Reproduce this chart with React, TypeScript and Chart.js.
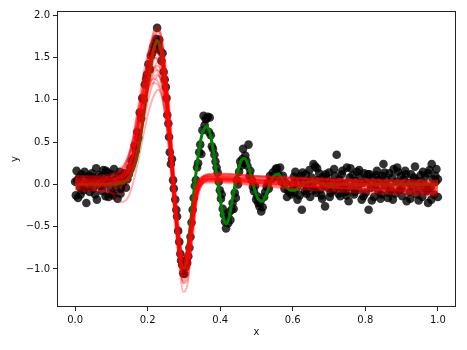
import React, { useEffect, useRef } from 'react';
import { Chart, registerables } from 'chart.js';
Chart.register(...registerables);

const X_TICKS = [0, 0.2, 0.4, 0.6, 0.8, 1.0];
const Y_TICKS = [-1.0, -0.5, 0.0, 0.5, 1.0, 1.5, 2.0];

// noisy observations
const PTS_X = [
  0.000, 0.002, 0.004, 0.006, 0.008, 0.011, 0.014, 0.017, 0.020, 0.023, 0.026, 0.029, 0.031, 0.034, 0.037, 0.040,
  0.043, 0.046, 0.049, 0.052, 0.055, 0.058, 0.060, 0.063, 0.066, 0.069, 0.072, 0.075, 0.078, 0.081, 0.084, 0.087,
  0.090, 0.092, 0.095, 0.098, 0.101, 0.104, 0.107, 0.110, 0.113, 0.117, 0.120, 0.123, 0.126, 0.129, 0.132, 0.136,
  0.140, 0.144, 0.148, 0.152, 0.156,
  0.161, 0.164, 0.167, 0.171, 0.174, 0.178, 0.182, 0.185, 0.189, 0.192, 0.196, 0.198, 0.202, 0.206, 0.209, 0.212,
  0.216, 0.219, 0.221, 0.224, 0.226, 0.229, 0.232, 0.235, 0.238, 0.241, 0.244, 0.247, 0.250, 0.252, 0.254, 0.257,
  0.259, 0.261, 0.264, 0.267, 0.270, 0.272, 0.276, 0.279, 0.281, 0.284, 0.287, 0.290, 0.292, 0.295, 0.298, 0.301,
  0.304, 0.307, 0.309, 0.312, 0.315, 0.318, 0.321, 0.324, 0.327, 0.330, 0.333, 0.336, 0.339, 0.342, 0.345, 0.348,
  0.351, 0.354, 0.357, 0.360, 0.363, 0.366, 0.369, 0.371, 0.374, 0.377, 0.380, 0.384, 0.387, 0.390, 0.393, 0.396,
  0.399, 0.402, 0.404, 0.407, 0.410, 0.413, 0.416, 0.419, 0.422, 0.425, 0.428, 0.431, 0.434, 0.437, 0.440, 0.443,
  0.446, 0.449, 0.452, 0.455, 0.458, 0.461, 0.463, 0.466, 0.469, 0.472, 0.475, 0.478, 0.481, 0.483, 0.487, 0.490,
  0.493, 0.496, 0.499, 0.502, 0.505, 0.508, 0.511, 0.513, 0.517, 0.521, 0.524, 0.528, 0.531, 0.534, 0.537, 0.541,
  0.545, 0.549, 0.553, 0.556, 0.560, 0.565, 0.569, 0.573, 0.577, 0.581, 0.584, 0.588, 0.593, 0.597, 0.601, 0.604,
  0.607, 0.611, 0.615, 0.619, 0.622, 0.625, 0.629, 0.633, 0.636, 0.640, 0.644, 0.648, 0.652, 0.655, 0.657, 0.662,
  0.665, 0.669, 0.673, 0.676, 0.679, 0.683, 0.686, 0.689, 0.693, 0.697, 0.700, 0.704, 0.708, 0.712, 0.716, 0.721,
  0.724, 0.728, 0.731, 0.735, 0.739, 0.743, 0.746, 0.749, 0.754, 0.757, 0.761, 0.765, 0.769, 0.773, 0.777, 0.781,
  0.785, 0.790, 0.793, 0.797, 0.801, 0.805, 0.809, 0.812, 0.816, 0.820, 0.824, 0.828, 0.832, 0.836, 0.840, 0.844,
  0.847, 0.850, 0.854, 0.858, 0.862, 0.866, 0.870, 0.874, 0.878, 0.882, 0.886, 0.890, 0.894, 0.898, 0.902, 0.906,
  0.910, 0.914, 0.918, 0.922, 0.926, 0.930, 0.934, 0.937, 0.941, 0.945, 0.949, 0.953, 0.957, 0.961, 0.965, 0.969,
  0.973, 0.973, 0.977, 0.980, 0.983, 0.987, 0.990, 0.993, 0.996, 1.000, 1.000,
  0.603, 0.613, 0.627, 0.638, 0.646, 0.659, 0.667, 0.681, 0.691, 0.702, 0.714, 0.726, 0.737, 0.748, 0.759, 0.771,
  0.783, 0.795, 0.807, 0.818, 0.830, 0.842, 0.853, 0.864, 0.876, 0.888, 0.900, 0.912, 0.924, 0.935, 0.947, 0.959,
  0.971, 0.982, 0.994, 0.015, 0.045, 0.085, 0.105, 0.125,
];
const PTS_Y = [
  0.03, -0.13, 0.16, 0.05, -0.16, 0.08, -0.04, 0.12, 0.01, -0.07, 0.15, -0.03, -0.22, 0.06, 0.10, -0.09,
  0.02, 0.13, -0.05, 0.07, -0.12, 0.19, -0.18, 0.04, 0.11, -0.02, 0.09, -0.08, 0.17, 0.00, -0.14, 0.06,
  0.14, -0.15, 0.03, -0.06, 0.12, -0.10, 0.18, 0.05, -0.03, -0.17, 0.10, 0.15, -0.05, 0.08, 0.02, 0.13,
  -0.04, 0.06, 0.12, 0.20, 0.28,
  0.31, 0.46, 0.40, 0.62, 0.55, 0.85, 0.78, 1.02, 1.00, 1.18, 1.25, 1.30, 1.42, 1.36, 1.52, 1.55,
  1.63, 1.60, 1.68, 1.72, 1.85, 1.66, 1.71, 1.58, 1.46, 1.55, 1.33, 1.24, 1.15, 1.02, 0.82, 0.72,
  0.56, 0.38, 0.24, 0.30, 0.05, -0.05, -0.18, -0.30, -0.38, -0.55, -0.68, -0.82, -0.90, -0.95, -1.05, -1.06,
  -0.98, -0.90, -0.93, -0.85, -0.75, -0.62, -0.45, -0.30, -0.16, -0.02, 0.05, 0.20, 0.25, 0.38, 0.47, 0.36,
  0.64, 0.81, 0.70, 0.77, 0.78, 0.80, 0.62, 0.79, 0.58, 0.45, 0.42, 0.35, 0.27, 0.20, 0.14, 0.03,
  -0.07, -0.17, -0.12, -0.29, -0.36, -0.44, -0.52, -0.40, -0.46, -0.33, -0.42, -0.30, -0.22, -0.29, -0.10, -0.16,
  0.05, 0.00, 0.15, 0.27, 0.22, 0.30, 0.42, 0.25, 0.34, 0.28, 0.22, 0.47, 0.10, 0.16, 0.05, -0.03,
  -0.08, -0.02, -0.18, -0.14, -0.22, -0.26, -0.20, -0.32, -0.27, -0.15, -0.09, -0.03, 0.02, -0.05, 0.10, 0.06,
  0.14, 0.08, 0.18, 0.19, 0.12, 0.20, 0.03, 0.10, -0.05, 0.02, -0.15, -0.08, -0.09, -0.12, 0.00, -0.10,
  0.15, -0.04, 0.06, -0.13, 0.10, -0.30, 0.02, -0.08, 0.12, -0.05, 0.04, -0.15, 0.08, -0.02, 0.24, 0.21,
  -0.10, 0.05, 0.13, -0.06, -0.13, 0.09, 0.00, -0.26, 0.07, -0.04, 0.14, -0.10, 0.03, -0.07, 0.10, 0.35,
  -0.02, 0.06, -0.14, 0.12, -0.05, 0.01, -0.09, 0.20, -0.20, 0.08, -0.03, 0.11, -0.12, 0.04, 0.15, -0.06,
  0.09, -0.18, 0.02, 0.13, -0.10, 0.05, -0.30, 0.12, -0.04, 0.08, -0.15, 0.00, 0.16, -0.08, 0.06, -0.12,
  0.10, 0.24, -0.02, 0.05, -0.16, 0.13, -0.06, 0.08, 0.18, -0.11, 0.03, 0.15, -0.07, 0.10, -0.14, 0.06,
  0.16, -0.20, 0.02, -0.09, 0.12, -0.03, 0.07, 0.21, -0.12, 0.04, -0.06, 0.11, -0.15, 0.01, 0.09, -0.08,
  0.13, -0.22, 0.17, -0.04, 0.24, 0.06, -0.12, 0.10, 0.18, -0.15, 0.06,
  0.09, -0.18, 0.14, -0.11, 0.17, -0.07, 0.19, -0.17, 0.12, -0.15, 0.18, -0.11, 0.16, -0.13, 0.19, -0.09,
  0.17, -0.14, 0.12, -0.19, 0.11, -0.17, 0.14, -0.10, -0.18, 0.20, -0.05, 0.12, -0.17, 0.08, -0.19, 0.15,
  -0.06, -0.18, 0.03, -0.12, 0.09, 0.16, -0.13, -0.11,
];

// true function (green)
const G_X = [
  0, 0.1, 0.13, 0.145, 0.16, 0.175, 0.19, 0.205, 0.217, 0.226, 0.235, 0.246, 0.257, 0.268, 0.279, 0.289, 0.297,
  0.305, 0.314, 0.322, 0.33, 0.339, 0.348, 0.356, 0.364, 0.372, 0.38, 0.39, 0.399, 0.408, 0.416, 0.424, 0.432,
  0.441, 0.45, 0.459, 0.467, 0.476, 0.485, 0.494, 0.503, 0.515, 0.526, 0.537, 0.548, 0.559, 0.57, 0.583, 0.595,
  0.607, 0.62, 0.635, 0.655, 0.675, 0.7, 0.73, 1.0,
];
const G_Y = [
  0.0, 0.0, 0.02, 0.06, 0.17, 0.42, 0.85, 1.32, 1.6, 1.7, 1.62, 1.3, 0.78, 0.15, -0.45, -0.86, -1.0,
  -0.92, -0.62, -0.3, 0.02, 0.33, 0.56, 0.66, 0.68, 0.6, 0.42, 0.12, -0.15, -0.38, -0.47, -0.4, -0.22,
  0.0, 0.18, 0.29, 0.31, 0.24, 0.1, -0.05, -0.16, -0.2, -0.13, 0.0, 0.1, 0.12, 0.07, -0.03, -0.07,
  -0.07, -0.03, 0.02, 0.04, 0.01, -0.02, 0.0, 0.0,
];

// posterior sample curves (red), all sampled on X_RED
const X_RED = [0, 0.05, 0.1, 0.125, 0.145, 0.16, 0.175, 0.19, 0.205, 0.218, 0.228, 0.238, 0.25, 0.262, 0.274, 0.286, 0.298, 0.31, 0.322, 0.335, 0.35, 0.365, 0.4, 0.5, 0.7, 1.0];
const RED_1 = [0.03, 0.03, 0.04, 0.07, 0.17, 0.38, 0.72, 1.10, 1.45, 1.64, 1.68, 1.55, 1.15, 0.55, -0.15, -0.70, -0.98, -0.86, -0.48, -0.10, 0.04, 0.07, 0.07, 0.05, 0.02, -0.02];
const RED_2 = [0.00, 0.00, 0.01, 0.03, 0.12, 0.36, 0.78, 1.22, 1.60, 1.82, 1.87, 1.74, 1.30, 0.62, -0.18, -0.88, -1.27, -1.18, -0.70, -0.22, 0.00, 0.05, 0.06, 0.04, 0.00, -0.06];
const RED_3 = [-0.05, -0.06, -0.10, -0.21, -0.16, 0.02, 0.30, 0.62, 0.90, 1.06, 1.12, 1.06, 0.80, 0.35, -0.20, -0.62, -0.85, -0.78, -0.42, -0.08, 0.06, 0.09, 0.10, 0.06, 0.01, -0.05];
const RED_4 = [0.08, 0.08, 0.10, 0.16, 0.32, 0.56, 0.90, 1.20, 1.43, 1.50, 1.46, 1.30, 0.92, 0.35, -0.30, -0.82, -1.04, -0.82, -0.40, -0.05, 0.08, 0.10, 0.10, 0.08, 0.05, 0.03];
const RED_5 = [-0.02, -0.02, -0.02, 0.00, 0.05, 0.18, 0.46, 0.88, 1.33, 1.62, 1.75, 1.68, 1.32, 0.75, 0.05, -0.55, -0.90, -0.88, -0.52, -0.14, 0.01, 0.04, 0.04, 0.01, -0.04, -0.08];
const RED_6 = [0.05, 0.05, 0.06, 0.10, 0.20, 0.40, 0.68, 0.98, 1.22, 1.33, 1.35, 1.26, 0.95, 0.45, -0.16, -0.66, -0.94, -0.84, -0.46, -0.08, 0.08, 0.11, 0.12, 0.10, 0.07, 0.05];
const RED_7 = [0.01, 0.01, 0.02, 0.05, 0.16, 0.38, 0.74, 1.10, 1.42, 1.59, 1.62, 1.50, 1.12, 0.52, -0.20, -0.78, -1.10, -0.98, -0.56, -0.14, 0.03, 0.06, 0.06, 0.02, -0.04, -0.10];
const RED_8 = [0.10, 0.10, 0.12, 0.18, 0.32, 0.52, 0.80, 1.04, 1.20, 1.25, 1.22, 1.10, 0.78, 0.28, -0.30, -0.72, -0.90, -0.70, -0.32, 0.00, 0.08, 0.09, 0.08, 0.06, 0.03, 0.00];
const RED_9 = [-0.08, -0.08, -0.07, -0.03, 0.08, 0.32, 0.74, 1.18, 1.58, 1.77, 1.80, 1.66, 1.22, 0.58, -0.14, -0.70, -0.99, -0.88, -0.50, -0.14, 0.00, 0.02, 0.02, -0.02, -0.08, -0.14];
const RED_10 = [0.06, 0.06, 0.06, 0.08, 0.12, 0.24, 0.48, 0.82, 1.16, 1.37, 1.45, 1.40, 1.12, 0.62, 0.00, -0.52, -0.86, -0.84, -0.50, -0.12, 0.07, 0.12, 0.13, 0.10, 0.05, 0.02];
const RED_11 = [0.00, 0.00, 0.01, 0.04, 0.15, 0.37, 0.72, 1.07, 1.38, 1.53, 1.55, 1.44, 1.08, 0.50, -0.22, -0.82, -1.16, -1.04, -0.60, -0.16, 0.02, 0.05, 0.05, 0.02, -0.02, -0.05];
const RED_12 = [0.04, 0.04, 0.06, 0.12, 0.28, 0.50, 0.78, 1.02, 1.16, 1.20, 1.18, 1.06, 0.76, 0.30, -0.28, -0.72, -0.98, -0.82, -0.40, -0.04, 0.07, 0.09, 0.09, 0.06, 0.01, -0.02];
const RED_13 = [0.02, 0.02, 0.02, 0.03, 0.07, 0.20, 0.50, 0.90, 1.32, 1.58, 1.70, 1.64, 1.30, 0.72, 0.02, -0.58, -0.94, -0.90, -0.54, -0.12, 0.04, 0.07, 0.07, 0.05, 0.02, 0.00];
const RED_14 = [-0.03, -0.03, -0.02, 0.02, 0.13, 0.34, 0.66, 1.00, 1.28, 1.39, 1.40, 1.30, 0.97, 0.44, -0.20, -0.74, -1.04, -0.92, -0.52, -0.12, 0.01, 0.03, 0.03, -0.01, -0.07, -0.12];
const RED_15 = [0.07, 0.07, 0.09, 0.15, 0.30, 0.54, 0.90, 1.24, 1.50, 1.60, 1.56, 1.40, 1.00, 0.40, -0.26, -0.76, -0.97, -0.76, -0.34, 0.00, 0.09, 0.10, 0.10, 0.08, 0.06, 0.04];
const RED_16 = [0.00, 0.00, 0.01, 0.05, 0.15, 0.35, 0.64, 0.95, 1.18, 1.28, 1.30, 1.21, 0.90, 0.40, -0.22, -0.78, -1.08, -0.96, -0.56, -0.14, 0.02, 0.06, 0.06, 0.02, -0.03, -0.07];
const RED_17 = [0.03, 0.03, 0.03, 0.04, 0.08, 0.20, 0.46, 0.84, 1.24, 1.50, 1.60, 1.55, 1.24, 0.66, -0.08, -0.74, -1.17, -1.12, -0.70, -0.20, 0.00, 0.06, 0.07, 0.04, 0.00, -0.03];
const RED_18 = [0.01, 0.01, 0.03, 0.10, 0.28, 0.55, 0.95, 1.34, 1.62, 1.72, 1.68, 1.50, 1.06, 0.42, -0.28, -0.80, -1.00, -0.78, -0.36, -0.02, 0.06, 0.07, 0.06, 0.03, -0.01, -0.04];
const RED_19 = [-0.06, -0.07, -0.10, -0.12, -0.02, 0.24, 0.62, 1.00, 1.32, 1.48, 1.50, 1.40, 1.04, 0.48, -0.14, -0.64, -0.90, -0.80, -0.44, -0.08, 0.05, 0.08, 0.08, 0.04, -0.03, -0.10];
const RED_20 = [0.09, 0.09, 0.09, 0.10, 0.14, 0.24, 0.46, 0.76, 1.06, 1.22, 1.28, 1.24, 0.98, 0.52, -0.10, -0.64, -1.00, -0.96, -0.58, -0.14, 0.06, 0.11, 0.12, 0.10, 0.06, 0.03];
const RED_21 = [0.04, 0.04, 0.05, 0.08, 0.18, 0.40, 0.78, 1.22, 1.60, 1.81, 1.85, 1.70, 1.26, 0.60, -0.16, -0.75, -1.04, -0.92, -0.52, -0.12, 0.04, 0.07, 0.07, 0.05, 0.02, -0.01];
const RED_22 = [-0.01, -0.01, 0.01, 0.08, 0.26, 0.50, 0.82, 1.10, 1.32, 1.38, 1.34, 1.18, 0.80, 0.24, -0.42, -0.92, -1.14, -0.90, -0.44, -0.06, 0.05, 0.06, 0.05, 0.02, -0.03, -0.08];
const RED_23 = [0.06, 0.06, 0.07, 0.10, 0.19, 0.40, 0.74, 1.10, 1.44, 1.62, 1.65, 1.52, 1.12, 0.54, -0.12, -0.60, -0.86, -0.76, -0.40, -0.04, 0.09, 0.12, 0.12, 0.09, 0.05, 0.01];
const RED_24 = [-0.04, -0.04, -0.04, -0.02, 0.04, 0.18, 0.48, 0.92, 1.40, 1.70, 1.82, 1.74, 1.38, 0.78, 0.02, -0.66, -1.08, -1.04, -0.62, -0.16, 0.00, 0.04, 0.04, 0.00, -0.05, -0.11];
const RED_CURVES = [
  RED_1, RED_2, RED_3, RED_4, RED_5, RED_6, RED_7, RED_8, RED_9, RED_10, RED_11, RED_12,
  RED_13, RED_14, RED_15, RED_16, RED_17, RED_18, RED_19, RED_20, RED_21, RED_22, RED_23, RED_24,
];

const toXY = (xs: number[], ys: number[]) => xs.map((x, i) => ({ x, y: ys[i] }));
const fmt = (v: number) => (v < 0 ? '\u2212' : '') + Math.abs(v).toFixed(1);

export default function App() {
  const ref = useRef<HTMLCanvasElement>(null);
  useEffect(() => {
    if (!ref.current) return;
    const datasets: any[] = [];
    datasets.push({
      type: 'scatter',
      data: toXY(PTS_X, PTS_Y),
      pointBackgroundColor: 'rgba(0,0,0,0.8)',
      pointBorderWidth: 0,
      pointRadius: 4.3,
      order: 3,
    });
    datasets.push({
      type: 'line',
      data: toXY(G_X, G_Y),
      borderColor: '#008000',
      borderWidth: 3,
      pointRadius: 0,
      cubicInterpolationMode: 'monotone',
      fill: false,
      order: 2,
    });
    RED_CURVES.forEach((c) =>
      datasets.push({
        type: 'line',
        data: toXY(X_RED, c),
        borderColor: 'rgba(255,0,0,0.3)',
        borderWidth: 2,
        pointRadius: 0,
        cubicInterpolationMode: 'monotone',
        fill: false,
        order: 1,
      })
    );
    const frame = {
      id: 'frame',
      afterDraw(chart: any) {
        const { ctx, chartArea: a } = chart;
        ctx.save();
        ctx.strokeStyle = '#222';
        ctx.lineWidth = 1;
        ctx.strokeRect(Math.round(a.left) + 0.5, Math.round(a.top) + 0.5, Math.round(a.right - a.left) - 1, Math.round(a.bottom - a.top) - 1);
        ctx.restore();
      },
    };
    const tickFont = { family: 'DejaVu Sans', size: 10 };
    const chart = new Chart(ref.current, {
      type: 'scatter',
      data: { datasets },
      plugins: [frame],
      options: {
        animation: false,
        responsive: true,
        maintainAspectRatio: false,
        layout: { padding: { left: 0, right: 11, top: 11, bottom: 0 } },
        plugins: { legend: { display: false }, tooltip: { enabled: false } },
        scales: {
          x: {
            type: 'linear',
            min: -0.05,
            max: 1.05,
            afterBuildTicks: (s: any) => { s.ticks = X_TICKS.map((v) => ({ value: v })); },
            afterFit: (s: any) => { s.height = 43; },
            ticks: { font: tickFont, color: '#111', padding: 3, maxRotation: 0, callback: (v: any) => fmt(Number(v)) },
            grid: { display: true, drawOnChartArea: false, drawTicks: true, tickLength: 4, color: '#222', lineWidth: 1 },
            border: { display: false },
            title: { display: true, text: 'x', font: tickFont, color: '#111', padding: { top: 0, bottom: 12 } },
          },
          y: {
            type: 'linear',
            min: -1.45,
            max: 2.05,
            afterBuildTicks: (s: any) => { s.ticks = Y_TICKS.map((v) => ({ value: v })); },
            afterFit: (s: any) => { s.width = 57; },
            ticks: { font: tickFont, color: '#111', padding: 3, callback: (v: any) => fmt(Number(v)) },
            grid: { display: true, drawOnChartArea: false, drawTicks: true, tickLength: 4, color: '#222', lineWidth: 1 },
            border: { display: false },
            title: { display: true, text: 'y', font: tickFont, color: '#111', padding: { top: 9, bottom: 0 } },
          },
        },
      },
    });
    return () => chart.destroy();
  }, []);
  return (
    <div style={{ position: 'fixed', left: 0, top: 0, width: 467, height: 350, background: '#fff' }}>
      <canvas ref={ref} />
    </div>
  );
}
